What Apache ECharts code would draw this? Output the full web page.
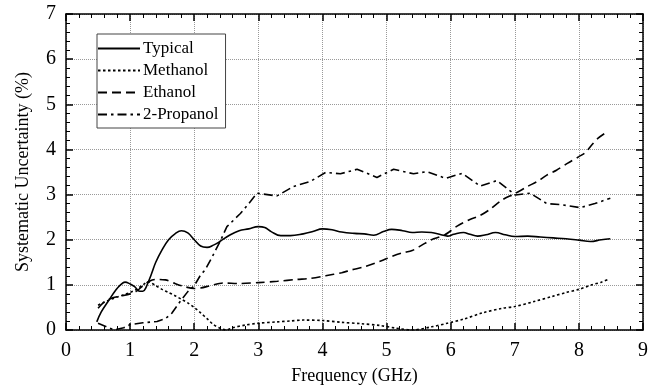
<!DOCTYPE html>
<html><head><meta charset="utf-8">
<script src="https://cdn.jsdelivr.net/npm/echarts@6/dist/echarts.min.js"></script>
<style>html,body{margin:0;padding:0;background:#fff}#c{width:662px;height:390px}</style>
</head><body><div id="c"></div>
<script>
const seriesNames = ['Typical', 'Methanol', 'Ethanol', '2-Propanol'];
const xTicks = [0,1,2,3,4,5,6,7,8,9];
const yTicks = [0,1,2,3,4,5,6,7];
const typical = [[0.48,0.18],[0.55,0.4],[0.65,0.62],[0.78,0.89],[0.85,1.0],[0.92,1.06],[1.0,1.02],[1.07,0.96],[1.15,0.86],[1.2,0.86],[1.25,0.95],[1.33,1.23],[1.4,1.5],[1.5,1.78],[1.6,2.0],[1.7,2.13],[1.8,2.2],[1.9,2.15],[2.0,2.0],[2.1,1.86],[2.2,1.83],[2.3,1.88],[2.4,1.96],[2.55,2.1],[2.7,2.2],[2.85,2.24],[3.0,2.29],[3.1,2.27],[3.2,2.18],[3.35,2.09],[3.5,2.09],[3.7,2.13],[3.85,2.18],[4.0,2.24],[4.15,2.22],[4.3,2.17],[4.5,2.14],[4.65,2.13],[4.8,2.1],[4.95,2.18],[5.08,2.23],[5.25,2.2],[5.4,2.16],[5.55,2.17],[5.7,2.16],[5.85,2.11],[5.95,2.08],[6.05,2.12],[6.2,2.16],[6.3,2.12],[6.42,2.08],[6.55,2.11],[6.7,2.16],[6.85,2.11],[7.0,2.07],[7.2,2.08],[7.4,2.06],[7.6,2.04],[7.8,2.02],[8.0,1.99],[8.18,1.96],[8.35,2.0],[8.49,2.02]];
const methanol = [[0.5,0.55],[0.6,0.62],[0.7,0.68],[0.8,0.73],[0.9,0.78],[1.0,0.83],[1.1,0.9],[1.2,1.0],[1.28,1.07],[1.4,0.98],[1.5,0.9],[1.6,0.83],[1.7,0.76],[1.8,0.68],[1.9,0.6],[2.0,0.5],[2.1,0.38],[2.2,0.25],[2.3,0.12],[2.4,0.04],[2.5,0.0],[2.6,0.05],[2.8,0.11],[3.0,0.15],[3.3,0.18],[3.5,0.2],[3.7,0.22],[4.0,0.21],[4.3,0.17],[4.6,0.14],[4.9,0.1],[5.15,0.04],[5.4,0.0],[5.7,0.07],[5.95,0.15],[6.2,0.24],[6.5,0.38],[6.8,0.48],[7.0,0.52],[7.3,0.63],[7.6,0.75],[7.8,0.83],[8.0,0.9],[8.2,1.0],[8.35,1.06],[8.47,1.13]];
const ethanol = [[0.5,0.48],[0.58,0.6],[0.7,0.7],[0.85,0.75],[1.0,0.8],[1.1,0.86],[1.2,0.98],[1.3,1.08],[1.4,1.12],[1.55,1.11],[1.7,1.03],[1.85,0.96],[2.0,0.92],[2.1,0.93],[2.25,0.98],[2.45,1.04],[2.7,1.03],[3.0,1.05],[3.3,1.08],[3.6,1.12],[3.8,1.14],[4.05,1.2],[4.3,1.27],[4.45,1.33],[4.65,1.4],[4.82,1.48],[4.95,1.55],[5.1,1.64],[5.25,1.71],[5.4,1.76],[5.55,1.88],[5.7,2.0],[5.9,2.1],[6.1,2.3],[6.3,2.45],[6.45,2.53],[6.6,2.66],[6.8,2.88],[7.0,3.02],[7.2,3.18],[7.35,3.29],[7.5,3.43],[7.65,3.54],[7.82,3.69],[8.0,3.84],[8.1,3.93],[8.2,4.1],[8.3,4.25],[8.42,4.37]];
const propanol = [[0.5,0.15],[0.62,0.08],[0.75,0.0],[0.9,0.05],[1.0,0.12],[1.2,0.16],[1.42,0.19],[1.55,0.25],[1.65,0.37],[1.78,0.63],[1.9,0.85],[2.0,0.98],[2.1,1.22],[2.17,1.33],[2.28,1.62],[2.4,1.95],[2.51,2.29],[2.72,2.58],[2.85,2.8],[2.98,3.03],[3.29,2.97],[3.55,3.18],[3.81,3.29],[4.05,3.49],[4.28,3.46],[4.54,3.56],[4.85,3.38],[5.11,3.56],[5.42,3.46],[5.63,3.51],[5.92,3.36],[6.18,3.47],[6.46,3.19],[6.72,3.31],[7.01,2.99],[7.24,3.03],[7.5,2.8],[7.71,2.78],[8.02,2.71],[8.25,2.8],[8.49,2.92]];

const FONT = '"Liberation Serif", "Times New Roman", serif';
const chart = echarts.init(document.getElementById('c'), null, {renderer: 'canvas'});
function axisBase(extra) {
  return Object.assign({
    type: 'value',
    axisLine: {show: true, onZero: false, lineStyle: {color: '#000', width: 1.5}},
    axisTick: {show: true, inside: true, length: 7, lineStyle: {color: '#000', width: 1.5}},
    minorTick: {show: true, splitNumber: 5, length: 4, lineStyle: {color: '#000', width: 1}},
    splitLine: {show: false},
    axisLabel: {show: false}
  }, extra);
}
const option = {
  animation: false,
  backgroundColor: '#fff',
  grid: {left: 66, right: 19, top: 14, bottom: 60, containLabel: false},
  legend: {
    orient: 'vertical', left: 97, top: 34,
    data: seriesNames,
    itemWidth: 42, itemHeight: 14, itemGap: 5,
    padding: [6, 7, 5, 0],
    borderColor: '#444', borderWidth: 1, backgroundColor: '#fff',
    itemStyle: {opacity: 0},
    textStyle: {fontFamily: FONT, fontSize: 17, color: '#000', padding: [0,0,0,-2]}
  },
  xAxis: [
    axisBase({min: 0, max: 9, interval: 1, position: 'bottom',
      name: 'Frequency (GHz)', nameLocation: 'middle', nameGap: 37,
      nameTextStyle: {fontFamily: FONT, fontSize: 18, color: '#000'},
      axisLabel: {show: true, margin: 11, fontFamily: FONT, fontSize: 20, color: '#000',
        formatter: v => xTicks.includes(v) ? String(v) : ''},
      splitLine: {show: true, lineStyle: {color: '#999', type: [1, 1], width: 1}}}),
    axisBase({min: 0, max: 9, interval: 1, position: 'top'})
  ],
  yAxis: [
    axisBase({min: 0, max: 7, interval: 1, position: 'left',
      name: 'Systematic Uncertainty (%)', nameLocation: 'middle', nameGap: 34,
      nameTextStyle: {fontFamily: FONT, fontSize: 18, color: '#000'},
      axisLabel: {show: true, margin: 10, fontFamily: FONT, fontSize: 20, color: '#000',
        formatter: v => yTicks.includes(v) ? String(v) : ''},
      splitLine: {show: true, lineStyle: {color: '#999', type: [1, 1], width: 1}}}),
    axisBase({min: 0, max: 7, interval: 1, position: 'right'})
  ],
  series: [
    {name: seriesNames[0], type: 'line', data: typical, smooth: 0.4, symbol: 'none',
      lineStyle: {color: '#000', width: 1.6, type: 'solid'}, itemStyle: {color: '#000'}},
    {name: seriesNames[1], type: 'line', data: methanol, smooth: 0.3, symbol: 'none',
      lineStyle: {color: '#000', width: 1.6, type: [2.5, 2.5]}, itemStyle: {color: '#000'}},
    {name: seriesNames[2], type: 'line', data: ethanol, smooth: 0.3, symbol: 'none',
      lineStyle: {color: '#000', width: 1.6, type: [9, 5]}, itemStyle: {color: '#000'}},
    {name: seriesNames[3], type: 'line', data: propanol, smooth: false, symbol: 'none',
      lineStyle: {color: '#000', width: 1.6, type: [9, 4, 2.5, 4]}, itemStyle: {color: '#000'}}
  ]
};
chart.setOption(option);
</script></body></html>
